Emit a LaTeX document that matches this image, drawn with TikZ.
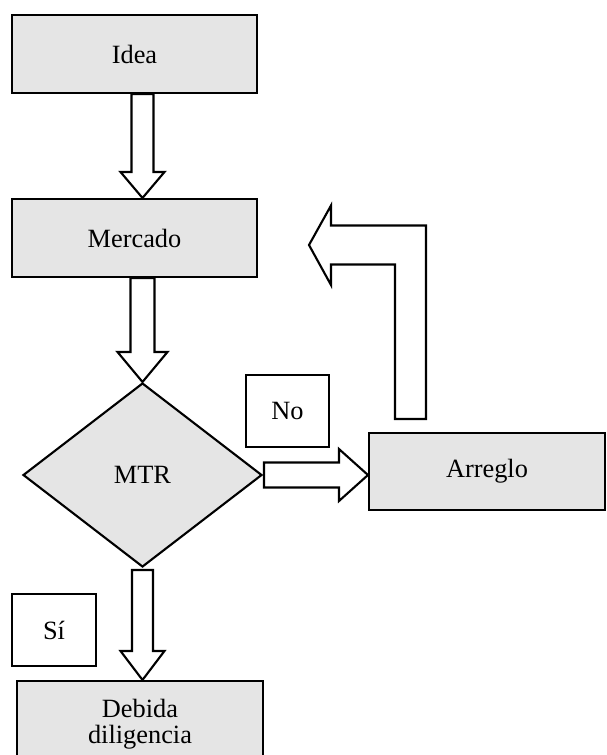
\documentclass[tikz,border=0pt]{standalone}
\usepackage{fontspec}
\setmainfont{Liberation Serif}
\usepackage{tikz}
\usetikzlibrary{shapes,positioning,calc}

\definecolor{boxgray}{gray}{0.9}

\begin{document}
\begin{tikzpicture}[x=0.02cm, y=-0.02cm, line width=1.2pt,
    font=\fontsize{15}{15}\selectfont,
    greybox/.style={rectangle, draw, fill=boxgray, minimum width=4.9cm,
      minimum height=1.56cm, align=center},
    labelbox/.style={rectangle, draw, fill=white, minimum width=1.66cm,
      minimum height=1.44cm},
    blockarrow/.style={draw, fill=white, line join=miter}]
    \useasboundingbox (0,0) rectangle (607,755);

    \node[greybox] (idea) at (134.5,54) {Idea};
    \node[greybox] (mercado) at (134.5,238) {Mercado};
    \node[diamond, draw, fill=boxgray, minimum width=4.78cm,
      minimum height=3.68cm, inner sep=0pt] (mtr) at (142.5,475) {MTR};
    \node[labelbox] (no) at (287.5,411) {No};
    \node[greybox, minimum width=4.72cm, minimum height=1.54cm]
      (arreglo) at (487,471.5) {Arreglo};
    \node[labelbox, minimum width=1.68cm] (si) at (54,630) {Sí};
    \node[greybox, minimum width=4.92cm, minimum height=1.74cm]
      (debida) at (140,724.5) {Debida\\diligencia};

    % hollow arrows
    \draw[blockarrow] ($(idea.south -| mtr)+(-11,0)$)
      -- ($(mercado.north -| mtr)+(-11,-26)$) -- ++(-11,0)
      -- (mercado.north -| mtr) -- ++(22,-26) -- ++(-11,0)
      -- ($(idea.south -| mtr)+(11,0)$) -- cycle;
    \draw[blockarrow] ($(mercado.south -| mtr)+(-12,0)$)
      -- ($(mtr.north)+(-12,-30)$) -- ++(-13,0)
      -- (mtr.north) -- ++(25,-30) -- ++(-13,0)
      -- ($(mercado.south -| mtr)+(12,0)$) -- cycle;
    \draw[blockarrow] ($(mtr.south)+(-10.5,2)$)
      -- ($(debida.north -| mtr)+(-10.5,-29)$) -- ++(-11.5,0)
      -- (debida.north -| mtr) -- ++(22,-29) -- ++(-11.5,0)
      -- ($(mtr.south)+(10.5,2)$) -- cycle;
    \draw[blockarrow] ($(mtr.east)+(1,-12.5)$)
      -- ($(arreglo.west |- mtr.east)+(-29,-12.5)$) -- ++(0,-13.5)
      -- (arreglo.west |- mtr.east) -- ++(-29,26) -- ++(0,-13.5)
      -- ($(mtr.east)+(1,12.5)$) -- cycle;

    % back to the market
    \coordinate (back) at (410.5,419);
    \coordinate (backtip) at (309,245);
    \draw[blockarrow] ($(back)+(-15.5,0)$)
      -- ($(back |- backtip)+(-15.5,19.5)$)
      -- ($(backtip)+(22,19.5)$) -- ++(0,20.5)
      -- (backtip) -- ++(22,-39.5) -- ++(0,20)
      -- ($(back |- backtip)+(15.5,-19.5)$)
      -- ($(back)+(15.5,0)$) -- cycle;
\end{tikzpicture}
\end{document}
